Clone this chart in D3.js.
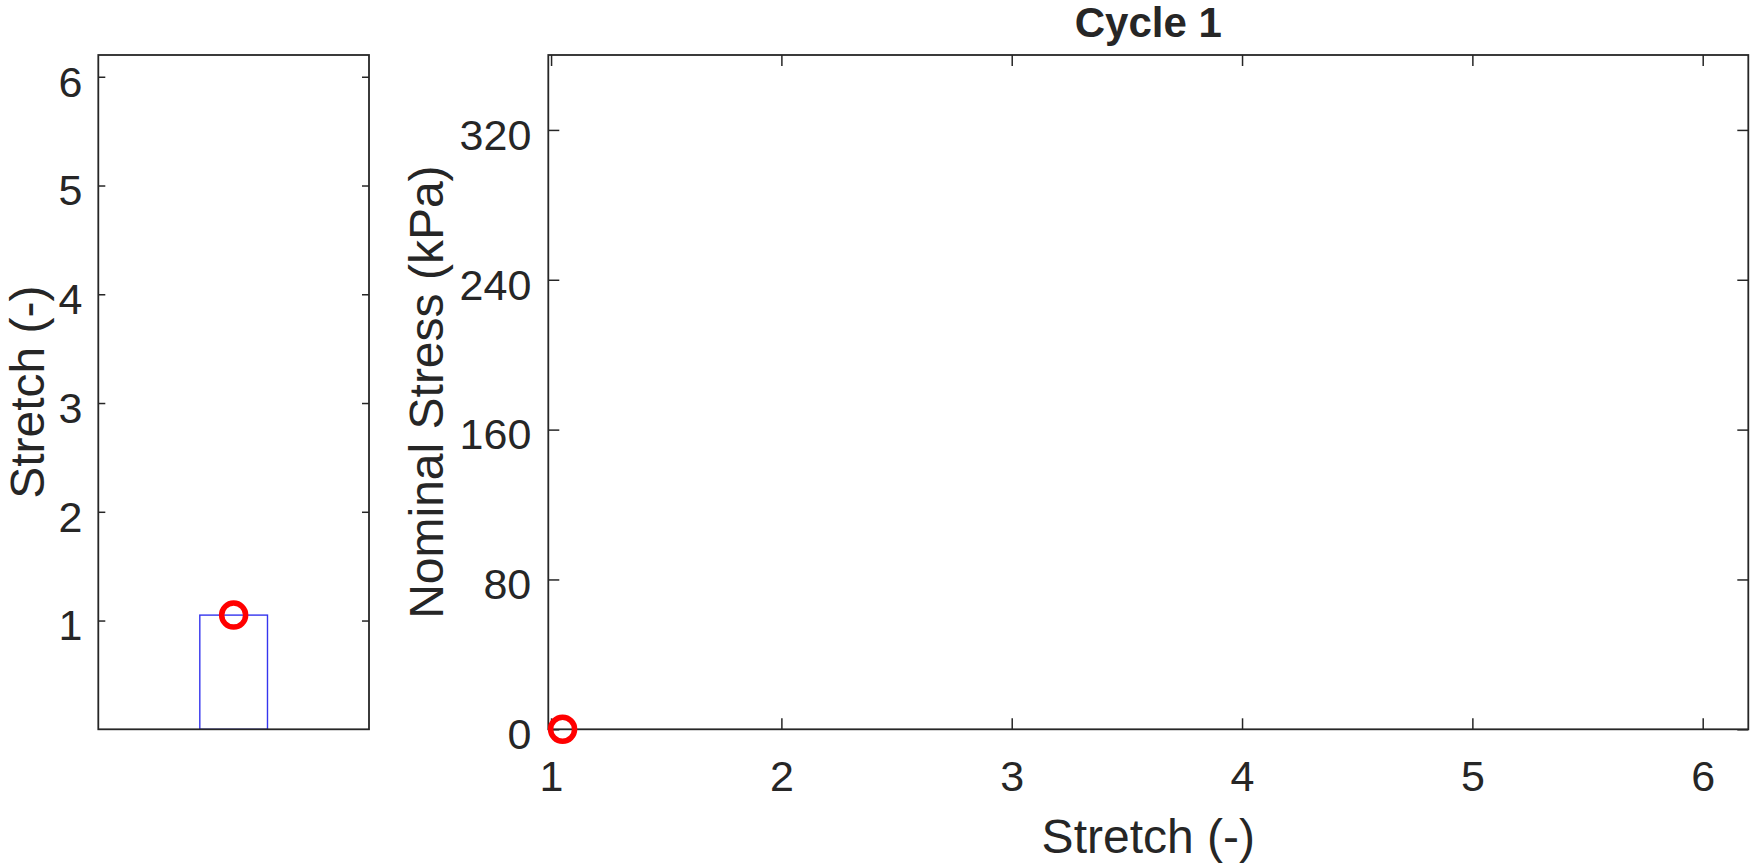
<!DOCTYPE html>
<html>
<head>
<meta charset="utf-8">
<script src="https://cdn.jsdelivr.net/npm/d3@7/dist/d3.min.js"></script>
<style>
  html, body { margin: 0; padding: 0; background: #ffffff; }
  svg { display: block; }
  text { font-family: "Liberation Sans", Arial, Helvetica, sans-serif; fill: #262626; }
</style>
</head>
<body>
<svg id="chart" width="1750" height="865"></svg>
<script>
// ---- Data ----
const barCategories = [1];          // single bar in the left panel
const barValues = [1.05];           // current stretch
const stretchValues = [1.05];       // stress-stretch point: stretch
const stressValues = [0];           // stress-stretch point: stress (kPa)
const stretchTicks = [1, 2, 3, 4, 5, 6];
const stressTicks = [0, 80, 160, 240, 320];
const leftTicks = [1, 2, 3, 4, 5, 6];
const titleText = "Cycle 1";
const xLabelText = "Stretch (-)";
const yLabelMain = "Nominal Stress (kPa)";
const yLabelLeft = "Stretch (-)";

// ---- Layout ----
const svg = d3.select("#chart");
const axisColor = "#262626";
const tickFont = 43, labelFont = 48, titleFont = 42;

const L = { x0: 98.3, x1: 369, y0: 55, y1: 729.3 };
const M = { x0: 548.3, x1: 1748.3, y0: 55, y1: 729.3 };

// ---- Left panel ----
const lx = d3.scaleLinear().domain([0, 2]).range([L.x0, L.x1]);
const ly = d3.scaleLinear().domain([0, 6.2]).range([L.y1, L.y0]);
const gL = svg.append("g");

const barW = 0.5;
gL.selectAll("rect.bar").data(barCategories.map((c, i) => ({ c, v: barValues[i] })))
  .enter().append("rect")
  .attr("x", d => lx(d.c - barW / 2))
  .attr("width", d => lx(d.c + barW / 2) - lx(d.c - barW / 2))
  .attr("y", d => ly(d.v))
  .attr("height", d => ly(0) - ly(d.v))
  .attr("fill", "none")
  .attr("stroke", "#3535ee")
  .attr("stroke-width", 1.4);

// left axis
const lAxis = gL.append("g").attr("transform", `translate(${L.x0},0)`)
  .call(d3.axisLeft(ly).tickValues(leftTicks).tickSizeInner(-7).tickSizeOuter(0).tickFormat(d3.format("d")));
lAxis.select(".domain").remove();
lAxis.selectAll(".tick line").attr("stroke", axisColor).attr("stroke-width", 1.5);
lAxis.selectAll(".tick text").attr("x", -16).attr("dy", "0.45em")
  .style("font-size", tickFont + "px").attr("fill", axisColor);
// right ticks
const lAxisR = gL.append("g").attr("transform", `translate(${L.x1},0)`)
  .call(d3.axisRight(ly).tickValues(leftTicks).tickSizeInner(-7).tickSizeOuter(0).tickFormat(""));
lAxisR.select(".domain").remove();
lAxisR.selectAll(".tick line").attr("stroke", axisColor).attr("stroke-width", 1.5);
// box
gL.append("rect").attr("x", L.x0).attr("y", L.y0).attr("width", L.x1 - L.x0).attr("height", L.y1 - L.y0)
  .attr("fill", "none").attr("stroke", axisColor).attr("stroke-width", 1.8);

// marker on bar
gL.selectAll("circle.m").data(barCategories.map((c, i) => ({ c, v: barValues[i] })))
  .enter().append("circle")
  .attr("cx", d => lx(d.c)).attr("cy", d => ly(d.v)).attr("r", 12)
  .attr("fill", "none").attr("stroke", "#ff0000").attr("stroke-width", 5.5);

gL.append("text")
  .attr("transform", `translate(44,${(L.y0 + L.y1) / 2}) rotate(-90)`)
  .attr("text-anchor", "middle")
  .style("font-size", labelFont + "px")
  .text(yLabelLeft);

// ---- Main panel ----
const mx = d3.scaleLinear().domain([0.988, 6.198]).range([M.x0, M.x1]);
const my = d3.scaleLinear().domain([0, 360]).range([M.y1, M.y0]);
const gM = svg.append("g");

const xb = gM.append("g").attr("transform", `translate(0,${M.y1})`)
  .call(d3.axisBottom(mx).tickValues(stretchTicks).tickSizeInner(-11).tickSizeOuter(0).tickFormat(d3.format("d")));
xb.select(".domain").remove();
xb.selectAll(".tick line").attr("stroke", axisColor).attr("stroke-width", 1.5);
xb.selectAll(".tick text").attr("y", 62).attr("dy", "0")
  .style("font-size", tickFont + "px").attr("fill", axisColor);

const xt = gM.append("g").attr("transform", `translate(0,${M.y0})`)
  .call(d3.axisTop(mx).tickValues(stretchTicks).tickSizeInner(-11).tickSizeOuter(0).tickFormat(""));
xt.select(".domain").remove();
xt.selectAll(".tick line").attr("stroke", axisColor).attr("stroke-width", 1.5);

const yl = gM.append("g").attr("transform", `translate(${M.x0},0)`)
  .call(d3.axisLeft(my).tickValues(stressTicks).tickSizeInner(-11).tickSizeOuter(0).tickFormat(d3.format("d")));
yl.select(".domain").remove();
yl.selectAll(".tick line").attr("stroke", axisColor).attr("stroke-width", 1.5);
yl.selectAll(".tick text").attr("x", -17).attr("dy", "0.45em")
  .style("font-size", tickFont + "px").attr("fill", axisColor);

const yr = gM.append("g").attr("transform", `translate(${M.x1},0)`)
  .call(d3.axisRight(my).tickValues(stressTicks).tickSizeInner(-11).tickSizeOuter(0).tickFormat(""));
yr.select(".domain").remove();
yr.selectAll(".tick line").attr("stroke", axisColor).attr("stroke-width", 1.5);

gM.append("rect").attr("x", M.x0).attr("y", M.y0).attr("width", M.x1 - M.x0).attr("height", M.y1 - M.y0)
  .attr("fill", "none").attr("stroke", axisColor).attr("stroke-width", 1.8);

gM.selectAll("circle.p").data(stretchValues.map((s, i) => ({ s, t: stressValues[i] })))
  .enter().append("circle")
  .attr("cx", d => mx(d.s)).attr("cy", d => my(d.t)).attr("r", 12)
  .attr("fill", "none").attr("stroke", "#ff0000").attr("stroke-width", 5.5);

gM.append("text")
  .attr("x", (M.x0 + M.x1) / 2).attr("y", 37)
  .attr("text-anchor", "middle")
  .style("font-size", titleFont + "px").style("font-weight", "bold")
  .attr("fill", "#000")
  .text(titleText);

gM.append("text")
  .attr("x", (M.x0 + M.x1) / 2).attr("y", 853)
  .attr("text-anchor", "middle")
  .style("font-size", labelFont + "px")
  .text(xLabelText);

gM.append("text")
  .attr("transform", `translate(443,${(M.y0 + M.y1) / 2}) rotate(-90)`)
  .attr("text-anchor", "middle")
  .style("font-size", labelFont + "px")
  .text(yLabelMain);
</script>
</body>
</html>
